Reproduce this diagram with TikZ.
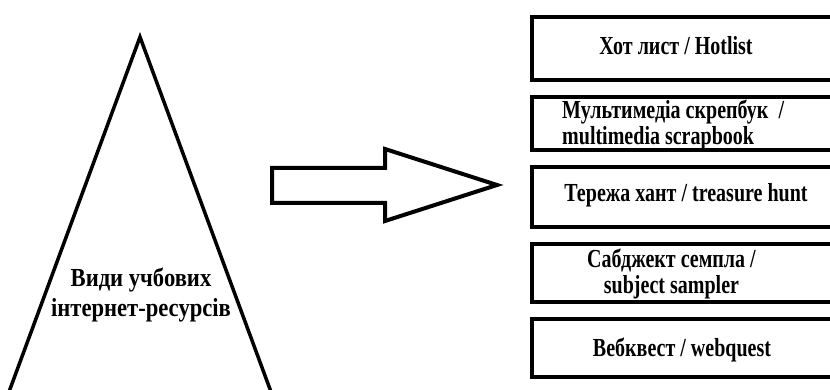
\documentclass[tikz,border=0pt]{standalone}
\usepackage{fontspec}
\newfontfamily\tallbold{Liberation Serif Bold}[FakeStretch=0.87]
\newfontfamily\narrowbold{Liberation Serif Bold}[FakeStretch=0.77]
\usetikzlibrary{positioning}

\begin{document}
\begin{tikzpicture}[x=1pt, y=-1pt, node distance=17pt,
                    every node/.style={font=\narrowbold\fontsize{26}{25.5}\selectfont},
                    itembox/.style={draw, line width=4pt, minimum width=313pt,
                                    inner sep=0pt, outer sep=0pt},
                    itemtext/.style={align=center, inner sep=0pt}]

\useasboundingbox (0,0) rectangle (830,390);
\clip (0,0) rectangle (830,390);

% triangle with its label
\draw[line width=3.5pt, line join=miter] (6,400) -- (140,37) -- (274,400);
\node[itemtext, font=\tallbold\fontsize{26}{30}\selectfont] (kinds) at (141,295)
     {Види учбових\\інтернет-ресурсів};

% block arrow
\draw[line width=4pt, line join=miter]
  (272,168) -- (385,168) -- (385,149) -- (497,185) -- (385,221)
  -- (385,203) -- (272,203) -- cycle;

% boxes
\node[itembox, minimum height=63pt, anchor=north west] (box1) at (532,17) {};
\node[itembox, minimum height=53pt, below=of box1] (box2) {};
\node[itembox, minimum height=60pt, below=of box2] (box3) {};
\node[itembox, minimum height=58pt, below=of box3] (box4) {};
\node[itembox, minimum height=58pt, below=of box4] (box5) {};

\node[itemtext, anchor=base] (hotlist) at (676,55) {Хот лист / Hotlist};
\node[itemtext, align=left, anchor=west] (scrapbook) at (562,125)
     {Мультимедіа скрепбук~ /\\multimedia scrapbook};
\node[itemtext, anchor=base] (hunt) at (686,202) {Тережа хант / treasure hunt};
\node[itemtext] (sampler) at ([xshift=-17pt,yshift=-1pt]box4.center)
     {Сабджект семпла /\\subject sampler};
\node[itemtext, anchor=base] (webquest) at (682,356) {Вебквест / webquest};
\end{tikzpicture}
\end{document}
